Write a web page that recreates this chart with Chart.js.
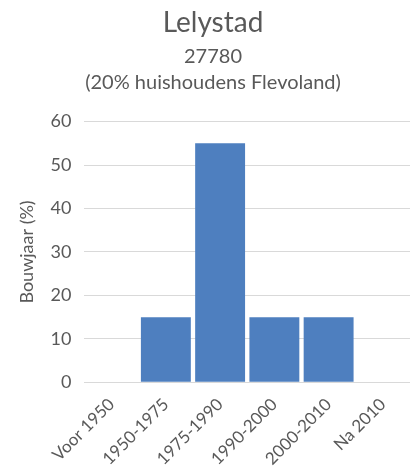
<!DOCTYPE html>
<html>
<head>
<meta charset="utf-8">
<script src="https://cdn.jsdelivr.net/npm/chart.js@4"></script>
<style>
  html, body { margin: 0; padding: 0; background: #fff; }
  #wrap { width: 412px; height: 475px; }
</style>
</head>
<body>
<div id="wrap"><canvas id="myChart"></canvas></div>
<script>
const categories = ["Voor 1950", "1950-1975", "1975-1990", "1990-2000", "2000-2010", "Na 2010"];
const bouwjaar = [0, 15, 55, 15, 15, 0];
const titleText = "Lelystad";
const subtitleLines = ["27780", "(20% huishoudens Flevoland)"];
const yTitle = "Bouwjaar (%)";

const textColor = "#595959";
const fontFamily = "Lato, 'Open Sans', sans-serif";

const ctx = document.getElementById("myChart").getContext("2d");
const myChart = new Chart(ctx, {
  type: "bar",
  data: {
    labels: categories,
    datasets: [
      {
        label: yTitle,
        data: bouwjaar,
        backgroundColor: "#4e7fbf",
        borderWidth: 0,
        categoryPercentage: 0.92,
        barPercentage: 1,
      },
    ],
  },
  options: {
    responsive: true,
    maintainAspectRatio: false,
    animation: false,
    layout: { padding: { left: 16, right: 2, top: 6, bottom: 2 } },
    scales: {
      x: {
        grid: { display: false },
        border: { display: false },
        ticks: {
          color: textColor,
          font: { family: fontFamily, size: 17 },
          minRotation: 45,
          maxRotation: 45,
          padding: 4,
        },
      },
      y: {
        min: 0,
        max: 60,
        grid: { color: "#d9d9d9", lineWidth: 1, drawTicks: false },
        border: { display: false },
        ticks: {
          stepSize: 10,
          color: textColor,
          padding: 13,
          font: { family: fontFamily, size: 18 },
        },
        title: {
          display: true,
          text: yTitle,
          color: textColor,
          font: { family: fontFamily, size: 18 },
          padding: { top: 0, bottom: 0 },
        },
      },
    },
    plugins: {
      legend: { display: false },
      tooltip: { enabled: false },
      title: {
        display: true,
        text: titleText,
        color: textColor,
        font: { family: fontFamily, size: 28, weight: "normal" },
        padding: { top: 0, bottom: 4 },
      },
      subtitle: {
        display: true,
        text: subtitleLines,
        color: textColor,
        font: { family: fontFamily, size: 20, weight: "normal", lineHeight: 1.3 },
        padding: { bottom: 26 },
      },
    },
  },
});
</script>
</body>
</html>
